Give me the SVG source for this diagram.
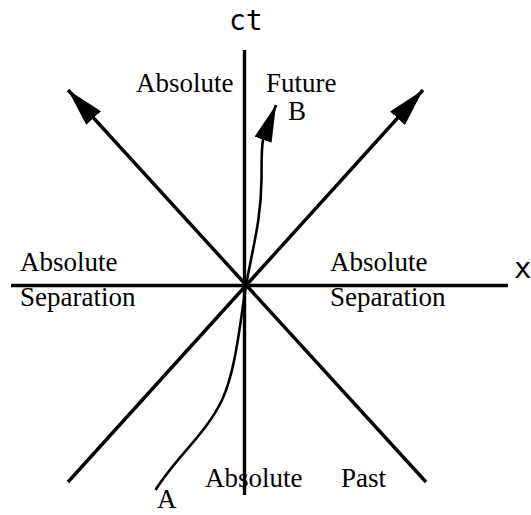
<svg xmlns="http://www.w3.org/2000/svg" width="531" height="515" viewBox="0 0 531 515">
<defs>
<style>
.ax{stroke:#000;stroke-width:3.4;fill:none;stroke-linecap:butt}
.wl{stroke:#000;stroke-width:2.6;fill:none}
.lbl{font-family:"Liberation Serif","Times New Roman",serif;font-size:27px;fill:#000}
.axl{font-family:"DejaVu Sans Mono","DejaVu Sans",monospace;fill:#000}
</style>
<marker id="ah" viewBox="0 0 38 20" refX="38" refY="10" markerWidth="38" markerHeight="20" markerUnits="userSpaceOnUse" orient="auto">
<path d="M0,0 L38,10 L0,20 Z" fill="#000"/>
</marker>
<marker id="ah2" viewBox="0 0 37 18" refX="37" refY="9" markerWidth="37" markerHeight="18" markerUnits="userSpaceOnUse" orient="auto">
<path d="M0,0 L37,9 L0,18 Z" fill="#000"/>
</marker>
</defs>
<rect width="531" height="515" fill="#fff"/>
<g id="connectors">
<line id="ct-axis" class="ax" x1="244.5" y1="50" x2="244.5" y2="495"/>
<line id="x-axis" class="ax" x1="11" y1="285.5" x2="508" y2="285.5"/>
<line id="lightcone-1" class="ax" x1="426" y1="482" x2="68" y2="90" marker-end="url(#ah)"/>
<line id="lightcone-2" class="ax" x1="68" y1="482" x2="423" y2="90" marker-end="url(#ah)"/>
<path id="worldline" class="wl" d="M155.5,490 C175,458 206,434 222,400 C236,370 240,322 246,286 C252,250 261,222 261.5,180 C261.8,165 261,152 263,140 L276,105" marker-end="url(#ah2)"/>
</g>
<g id="label-ct"><text class="axl" x="229" y="30" font-size="28">ct</text></g>
<g id="label-x"><text class="axl" x="514" y="278" font-size="29">x</text></g>
<g id="future"><text class="lbl" x="136" y="92">Absolute</text><text class="lbl" x="266" y="92">Future</text></g>
<g id="point-B"><text class="lbl" x="288" y="120">B</text></g>
<g id="sep-left"><text class="lbl" x="20" y="271">Absolute</text><text class="lbl" x="20" y="306">Separation</text></g>
<g id="sep-right"><text class="lbl" x="330" y="271">Absolute</text><text class="lbl" x="330" y="306">Separation</text></g>
<g id="past"><text class="lbl" x="205" y="487">Absolute</text><text class="lbl" x="341" y="487">Past</text></g>
<g id="point-A"><text class="lbl" x="157" y="508">A</text></g>
</svg>
